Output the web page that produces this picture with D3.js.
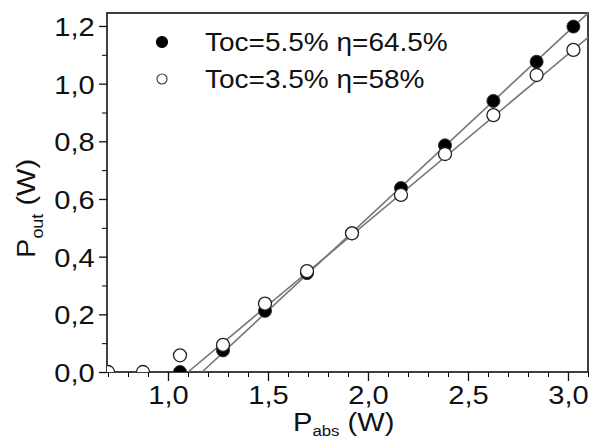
<!DOCTYPE html>
<html>
<head>
<meta charset="utf-8">
<script src="https://cdn.jsdelivr.net/npm/d3@7"></script>
<style>
  body { margin: 0; background: #fff; }
  text { font-family: "Liberation Sans", Arial, sans-serif; fill: #111; }
</style>
</head>
<body>
<div id="chart"></div>
<script>
// datos
const pabsFilled = [1.06, 1.275, 1.485, 1.695, 1.92, 2.165, 2.385, 2.627, 2.843, 3.027];
const poutFilled = [0.0, 0.075, 0.212, 0.343, 0.481, 0.638, 0.786, 0.940, 1.076, 1.198];
const pabsOpen = [0.70, 0.875, 1.06, 1.275, 1.485, 1.695, 1.92, 2.165, 2.385, 2.627, 2.843, 3.027];
const poutOpen = [0.0, 0.0, 0.058, 0.094, 0.237, 0.350, 0.481, 0.614, 0.756, 0.891, 1.030, 1.117];
const seriesNames = ["Toc=5.5% \u03b7=64.5%", "Toc=3.5% \u03b7=58%"];
const slopes = [0.645, 0.58];      // eficiencia de pendiente
const thresholds = [1.17, 1.10];   // umbral (W)
const xTicks = [1.0, 1.5, 2.0, 2.5, 3.0];
const yTicks = [0.0, 0.2, 0.4, 0.6, 0.8, 1.0, 1.2];

const width = 590, height = 442;
const margin = { top: 13, right: 2, bottom: 70, left: 107 };
const stretch = 1.12; // el texto original está un poco ensanchado

const svg = d3.select("#chart").append("svg")
    .attr("width", width)
    .attr("height", height);

const x = d3.scaleLinear().domain([0.695, 3.1]).range([margin.left, width - margin.right]);
const y = d3.scaleLinear().domain([0, 1.245]).range([height - margin.bottom, margin.top]);

svg.append("clipPath").attr("id", "clip")
  .append("rect")
    .attr("x", x.range()[0]).attr("y", y.range()[1])
    .attr("width", x.range()[1] - x.range()[0])
    .attr("height", y.range()[0] - y.range()[1]);

const fmt = d => d3.format(".1f")(d).replace(".", ",");

// ejes menores
svg.append("g")
    .attr("transform", `translate(0,${y(0)})`)
    .call(d3.axisBottom(x).tickValues(d3.range(0.7, 3.1, 0.1)).tickSize(5).tickFormat(""))
    .call(g => g.select(".domain").remove());
svg.append("g")
    .attr("transform", `translate(${x.range()[0]},0)`)
    .call(d3.axisLeft(y).tickValues(d3.range(0.1, 1.25, 0.2)).tickSize(5).tickFormat(""))
    .call(g => g.select(".domain").remove());

// ejes mayores
const xAxis = svg.append("g")
    .attr("transform", `translate(0,${y(0)})`)
    .call(d3.axisBottom(x).tickValues(xTicks).tickSize(9).tickPadding(5).tickFormat(fmt));
const yAxis = svg.append("g")
    .attr("transform", `translate(${x.range()[0]},0)`)
    .call(d3.axisLeft(y).tickValues(yTicks).tickSize(8).tickPadding(3).tickFormat(fmt));

[xAxis, yAxis].forEach(g => {
  g.selectAll(".domain").remove();
  g.selectAll("line").attr("stroke", "#111").attr("stroke-width", 1.3);
  g.selectAll("text")
    .attr("font-size", 26)
    .attr("font-family", "Liberation Sans, Arial, sans-serif")
    .attr("fill", "#111");
});
xAxis.selectAll("text").attr("transform", `scale(${stretch},1)`);
yAxis.selectAll("text").attr("dy", "0.36em").attr("transform", `scale(${stretch},1)`);

// marco
svg.append("rect")
    .attr("x", x.range()[0]).attr("y", y.range()[1])
    .attr("width", x.range()[1] - x.range()[0])
    .attr("height", y.range()[0] - y.range()[1])
    .attr("fill", "none")
    .attr("stroke", "#111")
    .attr("stroke-width", 1.6);

const plot = svg.append("g").attr("clip-path", "url(#clip)");

// rectas de ajuste
slopes.forEach((s, i) => {
  const x0 = thresholds[i];
  const x1 = 3.2;
  plot.append("line")
      .attr("x1", x(x0)).attr("y1", y(0))
      .attr("x2", x(x1)).attr("y2", y(s * (x1 - x0)))
      .attr("stroke", "#777")
      .attr("stroke-width", 1.6);
});

// puntos
plot.selectAll(".filled")
  .data(pabsFilled.map((d, i) => [d, poutFilled[i]]))
  .join("circle")
    .attr("class", "filled")
    .attr("cx", d => x(d[0])).attr("cy", d => y(d[1]))
    .attr("r", 6.5)
    .attr("fill", "#000")
    .attr("stroke", "#333")
    .attr("stroke-width", 1);

plot.selectAll(".open")
  .data(pabsOpen.map((d, i) => [d, poutOpen[i]]))
  .join("circle")
    .attr("class", "open")
    .attr("cx", d => x(d[0])).attr("cy", d => y(d[1]))
    .attr("r", 6.5)
    .attr("fill", "#fff")
    .attr("stroke", "#222")
    .attr("stroke-width", 1.3);

// leyenda
const legend = svg.append("g");
seriesNames.forEach((name, i) => {
  const ly = 42 + i * 37;
  legend.append("circle")
      .attr("cx", 162).attr("cy", ly)
      .attr("r", i === 0 ? 5.5 : 5)
      .attr("fill", i === 0 ? "#000" : "#fff")
      .attr("stroke", i === 0 ? "#000" : "#444")
      .attr("stroke-width", 1.2);
  legend.append("text")
      .attr("transform", `translate(205,${ly + 8.5}) scale(${stretch},1)`)
      .attr("font-size", 25)
      .text(name);
});

// títulos de los ejes
const xt = svg.append("text")
    .attr("transform", `translate(293,431) scale(${stretch},1)`)
    .attr("font-size", 26);
xt.append("tspan").text("P");
xt.append("tspan").attr("font-size", 15).attr("dy", 5).text("abs");
xt.append("tspan").attr("dy", -5).text(" (W)");

const yt = svg.append("text")
    .attr("transform", `translate(35,258) rotate(-90) scale(${stretch},1)`)
    .attr("font-size", 26);
yt.append("tspan").text("P");
yt.append("tspan").attr("font-size", 16).attr("dy", 8).text("out");
yt.append("tspan").attr("dy", -8).text(" (W)");
</script>
</body>
</html>
